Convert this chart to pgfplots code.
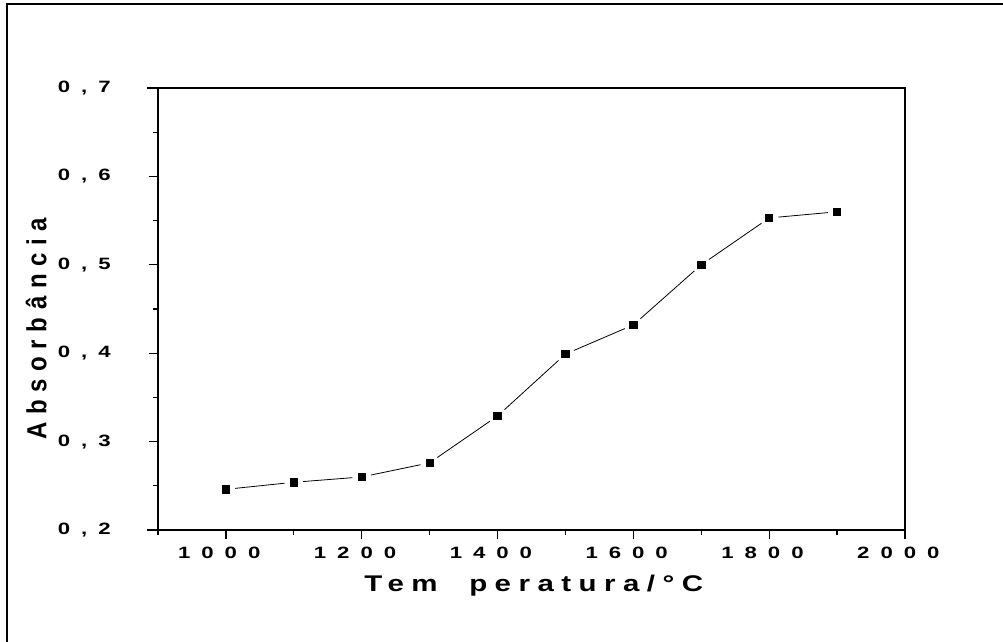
\documentclass[border=0pt]{standalone}
\usepackage{pgfplots}
\pgfplotsset{compat=1.18}
\usepackage{pgfplotstable}
\usepackage{fontspec}
\setmainfont{Liberation Sans}
\newfontfamily\tickf{Liberation Sans}[FakeStretch=1.35, LetterSpace=67]
\newfontfamily\xlabf{Liberation Sans}[FakeStretch=1.3, LetterSpace=33]
\newfontfamily\ylabf{Liberation Sans}[LetterSpace=32]

\pgfplotstableread{
T A
1000 0.246
1100 0.254
1200 0.260
1300 0.276
1400 0.329
1500 0.399
1600 0.432
1700 0.500
1800 0.553
1900 0.560
}\absdata

\begin{document}
\begin{tikzpicture}
\path[use as bounding box] (-118.5pt,-84pt) rectangle (633.75pt,397.5pt);
\begin{axis}[
  name=ax,
  at={(0,0)}, anchor=south west,
  scale only axis, width=560.25pt, height=331.5pt,
  xmin=900, xmax=2000, ymin=0.2, ymax=0.7,
  xtick={1000,1200,1400,1600,1800,2000},
  xticklabels={1000,1200,1400,1600,1800,2000},
  minor xtick={900,1100,1300,1500,1700,1900},
  ytick={0.2,0.3,0.4,0.5,0.6,0.7},
  yticklabels={{0,2},{0,3},{0,4},{0,5},{0,6},{0,7}},
  minor ytick={0.25,0.35,0.45,0.55,0.65},
  tick align=outside, tick pos=left,
  major tick length=7pt, minor tick length=3.5pt,
  every tick/.style={black, line width=0.9pt},
  axis line style={line width=1.4pt},
  xticklabel style={font=\tickf\bfseries\fontsize{12.3}{14}\selectfont, xshift=-5pt, yshift=-2pt},
  yticklabel style={font=\tickf\bfseries\fontsize{12.3}{14}\selectfont, xshift=-25pt},
  xlabel={Tem\hspace{12pt} peratura/°C},
  xlabel style={font=\xlabf\bfseries\fontsize{17}{19}\selectfont, at={(axis description cs:0.503,-0.140)}, anchor=base},
  ylabel={\scalebox{1}[1.15]{\ylabf\bfseries\fontsize{18}{20}\selectfont Absorbância}},
  ylabel style={at={(axis description cs:-0.163,0.455)}, anchor=center, rotate=0, inner sep=0pt},
  every axis plot/.append style={black, line width=0.6pt},
]
\addplot[shorten <=7pt, shorten >=7pt] coordinates {(1000,0.246) (1100,0.254)};
\addplot[shorten <=7pt, shorten >=7pt] coordinates {(1100,0.254) (1200,0.260)};
\addplot[shorten <=7pt, shorten >=7pt] coordinates {(1200,0.260) (1300,0.276)};
\addplot[shorten <=7pt, shorten >=7pt] coordinates {(1300,0.276) (1400,0.329)};
\addplot[shorten <=7pt, shorten >=7pt] coordinates {(1400,0.329) (1500,0.399)};
\addplot[shorten <=7pt, shorten >=7pt] coordinates {(1500,0.399) (1600,0.432)};
\addplot[shorten <=7pt, shorten >=7pt] coordinates {(1600,0.432) (1700,0.500)};
\addplot[shorten <=7pt, shorten >=7pt] coordinates {(1700,0.500) (1800,0.553)};
\addplot[shorten <=7pt, shorten >=7pt] coordinates {(1800,0.553) (1900,0.560)};
\addplot[black, only marks, mark=square*, mark size=2.75pt, mark options={fill=black, draw=none}] table[x=T, y=A] {\absdata};
\end{axis}
\draw[line width=1.4pt] (ax.south west) -- ++(-8.25pt,0);
\draw[line width=1.4pt] (ax.north west) -- ++(-8.25pt,0);
\draw[line width=1.4pt] (ax.south east) -- ++(0,-6pt);
\draw[line width=1.5pt] (-112.9pt,-84pt) -- (-112.9pt,394.5pt) -- (633.75pt,394.5pt);
\end{tikzpicture}
\end{document}
